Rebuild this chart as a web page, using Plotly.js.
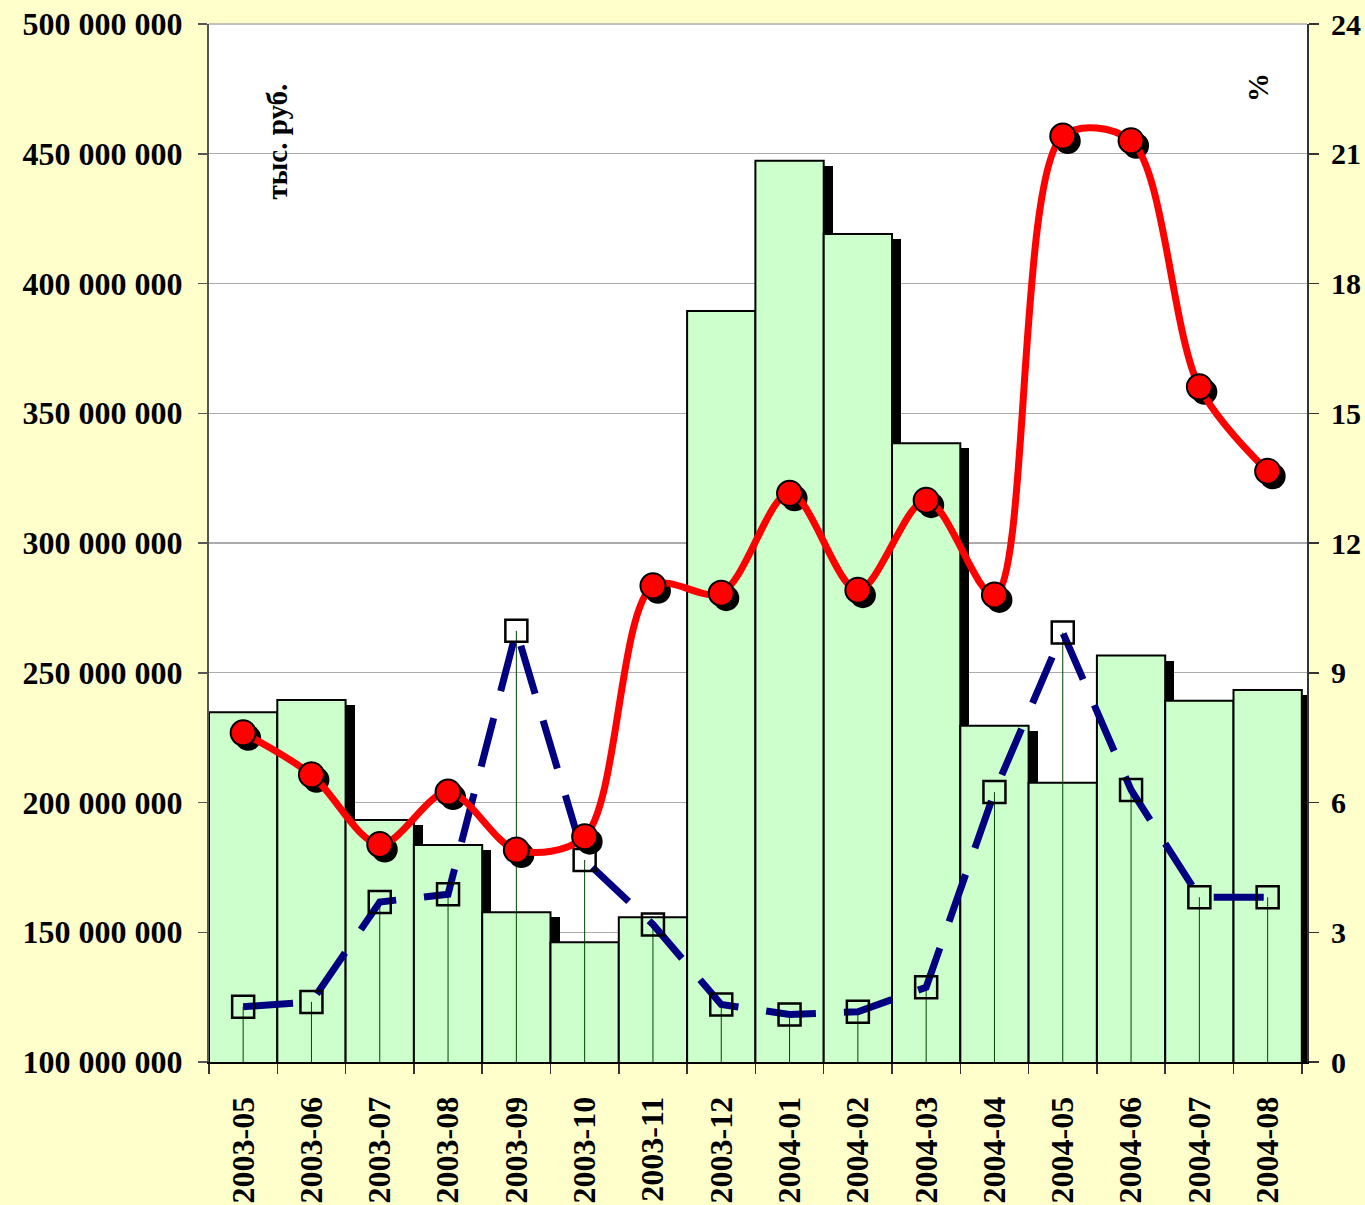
<!DOCTYPE html>
<html>
<head>
<meta charset="utf-8">
<script src="https://cdn.plot.ly/plotly-3.0.1.min.js"></script>
<style>
  html, body { margin: 0; padding: 0; background: #FFFFCC; }
  #chart { width: 1365px; height: 1205px; }
</style>
</head>
<body>
<div id="chart"></div>
<script>
// ---- data ----
const categories = ['2003-05','2003-06','2003-07','2003-08','2003-09','2003-10','2003-11','2003-12',
                    '2004-01','2004-02','2004-03','2004-04','2004-05','2004-06','2004-07','2004-08'];
const volumeValues = [234.8e6, 239.5e6, 193.3e6, 183.6e6, 157.7e6, 146.1e6, 155.8e6, 389.4e6,
                      447.3e6, 419.1e6, 338.4e6, 229.6e6, 207.6e6, 256.6e6, 239.2e6, 243.4e6];
const redPercent = [7.61, 6.64, 5.03, 6.24, 4.90, 5.21, 11.01, 10.84,
                    13.15, 10.91, 12.99, 10.80, 21.41, 21.30, 15.61, 13.66];
const bluePercent = [1.28, 1.39, 3.70, 3.88, 9.97, 4.67, 3.18, 1.33,
                     1.10, 1.16, 1.73, 6.24, 9.93, 6.29, 3.81, 3.81];
const leftTickValues = [100e6, 150e6, 200e6, 250e6, 300e6, 350e6, 400e6, 450e6, 500e6];
const leftTickLabels = ['100 000 000','150 000 000','200 000 000','250 000 000','300 000 000',
                        '350 000 000','400 000 000','450 000 000','500 000 000'];
const rightTickValues = [0, 3, 6, 9, 12, 15, 18, 21, 24];
const rightTickLabels = ['0','3','6','9','12','15','18','21','24'];
const leftAxisTitle = 'тыс. руб.';
const rightAxisTitle = '%';

// ---- styling helpers ----
const idx = categories.map((_, i) => i);
const boundaries = categories.map((_, i) => i - 0.5).concat([categories.length - 0.5]);
const catPx = 68.3;                // approx pixels per category
const pxPerLeft = 400e6 / 1038;    // value per pixel on left axis
const pxPerRight = 24 / 1038;      // value per pixel on right axis
const barShadowDx = 9 / catPx, barShadowDy = 5 * pxPerLeft;
const dotShadowDx = 5 / catPx, dotShadowDy = 5 * pxPerRight;

const serif = 'Liberation Serif, Times New Roman, serif';
const tickFont = { family: serif, size: 32, color: '#000000', weight: 700 };
const rightTickFont = { family: serif, size: 30, color: '#000000', weight: 700 };

const traces = [
  { // bar shadow
    type: 'bar', x: idx.map(i => i + barShadowDx), y: volumeValues.map(v => v - barShadowDy),
    width: 1, marker: { color: '#000000', line: { width: 0 } },
    xaxis: 'x', yaxis: 'y', hoverinfo: 'skip', showlegend: false
  },
  { // bars
    type: 'bar', x: idx, y: volumeValues, width: 1,
    marker: { color: '#CCFFCC', line: { color: '#000000', width: 2 } },
    xaxis: 'x', yaxis: 'y', showlegend: false
  },
  { // blue dashed line with drop lines
    type: 'scatter', mode: 'lines+markers', x: idx, y: bluePercent,
    line: { color: '#000080', width: 7, dash: '50px,28px' },
    marker: { symbol: 'square', size: 22, color: 'rgba(0,0,0,0)', line: { color: '#000000', width: 2.5 } },
    error_y: { type: 'data', symmetric: false, array: bluePercent.map(() => 0), arrayminus: bluePercent,
               color: '#004400', thickness: 1, width: 0 },
    xaxis: 'x', yaxis: 'y2', showlegend: false
  },
  { // red marker shadows
    type: 'scatter', mode: 'markers', x: idx.map(i => i + dotShadowDx), y: redPercent.map(v => v - dotShadowDy),
    marker: { symbol: 'circle', size: 26, color: '#000000', line: { width: 0 } },
    xaxis: 'x', yaxis: 'y2', hoverinfo: 'skip', showlegend: false
  },
  { // red smooth line
    type: 'scatter', mode: 'lines+markers', x: idx, y: redPercent,
    line: { color: '#FF0000', width: 7, shape: 'spline', smoothing: 0.9 },
    marker: { symbol: 'circle', size: 25, color: '#FF0000', line: { color: '#000000', width: 2 } },
    xaxis: 'x', yaxis: 'y2', showlegend: false
  }
];

const layout = {
  width: 1365, height: 1205,
  paper_bgcolor: '#FFFFCC', plot_bgcolor: '#FFFFFF',
  margin: { l: 209, r: 58, t: 24, b: 143, pad: 0 },
  barmode: 'overlay', bargap: 0,
  showlegend: false,
  font: { family: serif, color: '#000000' },
  xaxis: {
    range: [-0.5, 15.576], tickmode: 'array', tickvals: idx, ticktext: categories,
    ticks: '', tickangle: -90, ticklabelstandoff: 20,
    tickfont: tickFont,
    showline: true, linecolor: '#000000', linewidth: 2, showgrid: false, zeroline: false,
    minor: { tickmode: 'array', tickvals: boundaries, ticks: 'outside', ticklen: 10,
             tickcolor: '#333333', tickwidth: 1.5, showgrid: false },
    automargin: false, fixedrange: true
  },
  yaxis: {
    range: [100e6, 500e6], tickmode: 'array', tickvals: leftTickValues, ticktext: leftTickLabels,
    ticks: 'outside', ticklen: 9, tickcolor: '#555555', tickwidth: 1.5, ticklabelstandoff: 9,
    tickfont: tickFont,
    showline: true, linecolor: '#555555', linewidth: 2,
    showgrid: true, gridcolor: '#ABABAB', gridwidth: 1.2, zeroline: false,
    automargin: false, fixedrange: true
  },
  yaxis2: {
    range: [0, 24], overlaying: 'y', side: 'right', anchor: 'x',
    tickmode: 'array', tickvals: rightTickValues, ticktext: rightTickLabels,
    ticks: 'outside', ticklen: 10, tickcolor: '#333333', tickwidth: 1.5, ticklabelstandoff: 6,
    tickfont: rightTickFont,
    showline: true, linecolor: '#333333', linewidth: 2, showgrid: false, zeroline: false,
    automargin: false, fixedrange: true
  },
  shapes: [
    { type: 'line', xref: 'paper', yref: 'paper', x0: 0, x1: 1, y0: 1, y1: 1,
      line: { color: '#ABABAB', width: 1.5 } }
  ],
  annotations: [
    { text: leftAxisTitle, xref: 'paper', yref: 'paper', x: 0.0624, y: 0.8863,
      textangle: -90, showarrow: false, xanchor: 'center', yanchor: 'middle',
      font: { family: serif, size: 29, color: '#000000', weight: 700 } },
    { text: rightAxisTitle, xref: 'paper', yref: 'paper', x: 0.955, y: 0.9388,
      textangle: -90, showarrow: false, xanchor: 'center', yanchor: 'middle',
      font: { family: serif, size: 29, color: '#000000', weight: 700 } }
  ]
};

Plotly.newPlot('chart', traces, layout, { staticPlot: true, displayModeBar: false });
</script>
</body>
</html>
